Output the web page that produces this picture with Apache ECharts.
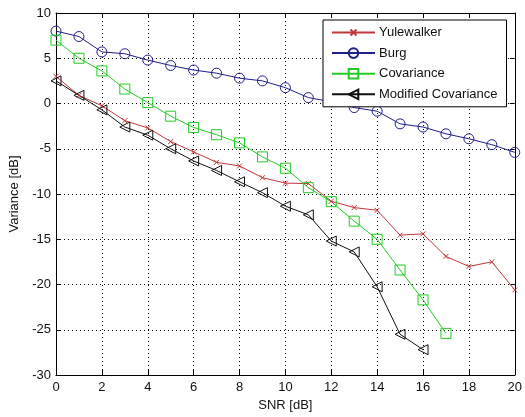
<!DOCTYPE html>
<html>
<head>
<meta charset="utf-8">
<script src="https://cdn.jsdelivr.net/npm/echarts@6/dist/echarts.min.js"></script>
<style>html,body{margin:0;padding:0;background:#fff;}#c{width:525px;height:417px;}</style>
</head>
<body>
<div id="c"></div>
<script>
var snr = [0,1,2,3,4,5,6,7,8,9,10,11,12,13,14,15,16,17,18,19,20];
var yulewalker = [3.0,0.9,-0.25,-1.9,-2.7,-4.2,-5.35,-6.5,-6.9,-8.2,-8.8,-8.85,-10.8,-11.5,-11.8,-14.55,-14.4,-16.9,-18.0,-17.5,-20.6];
var burg = [8.0,7.4,5.7,5.5,4.8,4.2,3.7,3.35,2.8,2.5,1.75,0.65,0.2,-0.45,-0.85,-2.25,-2.6,-3.35,-3.9,-4.55,-5.4];
var covariance = [7.0,5.0,3.6,1.6,0.1,-1.4,-2.65,-3.45,-4.35,-5.9,-7.15,-9.3,-10.85,-13.0,-15.0,-18.4,-21.7,-25.4];
var modcov = [2.5,0.9,-0.7,-2.6,-3.5,-5.0,-6.35,-7.4,-8.65,-9.85,-11.35,-12.3,-15.2,-16.4,-20.25,-25.5,-27.2];
var xTicks = [0,2,4,6,8,10,12,14,16,18,20];
var yTicks = [-30,-25,-20,-15,-10,-5,0,5,10];
var names = ['Yulewalker','Burg','Covariance','Modified Covariance'];

function pairs(arr){ return arr.map(function(v,i){ return [snr[i], v]; }); }

var FONT = 'Liberation Sans, Arial, sans-serif';
var chart = echarts.init(document.getElementById('c'), null, {renderer:'canvas'});

function mkSeries(name, data, color, symbol, size){
  return {
    name: name, type: 'line', data: pairs(data),
    symbol: symbol, symbolSize: size,
    showAllSymbol: true,
    lineStyle: {color: color, width: 1},
    itemStyle: {color: 'rgba(255,255,255,0)', borderColor: color, borderWidth: 1},
    emphasis: {disabled: true},
    animation: false, z: 3
  };
}

var axisCommon = {
  axisLine: {show: true, onZero: false, lineStyle: {color: '#000', width: 1}},
  axisTick: {show: true, inside: true, length: 5, lineStyle: {color: '#000'}},
  splitLine: {show: false}
};

var option = {
  backgroundColor: '#fff',
  animation: false,
  grid: {left: 55, right: 6, top: 13, bottom: 41, containLabel: false},
  legend: {
    orient: 'vertical', left: 323, top: 20,
    backgroundColor: '#fff', borderColor: '#000', borderWidth: 1,
    padding: [6, 9, 6, 8], itemGap: 7.6, itemWidth: 43, itemHeight: 12,
    textStyle: {fontFamily: FONT, fontSize: 13, color: '#111', padding: [0,0,0,-1]},
    data: names, z: 10, selectedMode: false
  },
  xAxis: [
    Object.assign({type: 'value', min: 0, max: 20, interval: 2, position: 'bottom',
      name: 'SNR [dB]', nameLocation: 'middle', nameGap: 24,
      nameTextStyle: {fontFamily: FONT, fontSize: 13, color: '#111'},
      axisLabel: {fontFamily: FONT, fontSize: 13, color: '#111', margin: 6}
    }, axisCommon, {splitLine: {show: true, lineStyle: {color: '#000', type: [1,3], width: 1}}}),
    Object.assign({type: 'value', min: 0, max: 20, interval: 2, position: 'top',
      axisLabel: {show: false}}, axisCommon)
  ],
  yAxis: [
    Object.assign({type: 'value', min: -30, max: 10, interval: 5, position: 'left',
      name: 'Variance [dB]', nameLocation: 'middle', nameGap: 35, nameRotate: 90,
      nameTextStyle: {fontFamily: FONT, fontSize: 13, color: '#111'},
      axisLabel: {fontFamily: FONT, fontSize: 13, color: '#111', margin: 5}
    }, axisCommon, {splitLine: {show: true, lineStyle: {color: '#000', type: [1,3], width: 1}}}),
    Object.assign({type: 'value', min: -30, max: 10, interval: 5, position: 'right',
      axisLabel: {show: false}}, axisCommon)
  ],
  series: [
    mkSeries(names[0], yulewalker, '#c0393b', 'path://M-3,-3M13,13M0,0L10,10M10,0L0,10', 8),
    mkSeries(names[1], burg, '#1f1f8a', 'circle', 10),
    mkSeries(names[2], covariance, '#22cc22', 'rect', 10),
    mkSeries(names[3], modcov, '#111111', 'path://M0,5L10,0L10,10Z', 10)
  ]
};
chart.setOption(option);
</script>
</body>
</html>
